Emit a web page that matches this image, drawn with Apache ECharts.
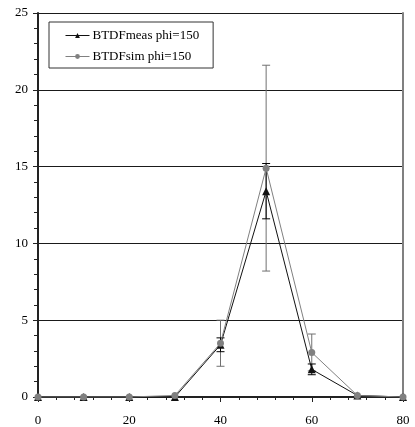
<!DOCTYPE html>
<html><head><meta charset="utf-8">
<script src="https://cdn.jsdelivr.net/npm/echarts@6/dist/echarts.min.js"></script>
<style>html,body{margin:0;padding:0;background:#fff}#c{width:415px;height:427px}</style>
</head><body><div id="c"></div>
<script>
const angles = [0, 10, 20, 30, 40, 50, 60, 70, 80];
const measValues = [0, 0, 0, 0, 3.4, 13.4, 1.8, 0.1, 0];
const measErrors = [0, 0, 0, 0, 0.45, 1.8, 0.35, 0, 0];
const simValues = [0, 0, 0, 0.1, 3.5, 14.9, 2.9, 0.1, 0];
const simErrors = [0, 0, 0, 0, 1.5, 6.7, 1.2, 0, 0];
const xTicks = [0, 20, 40, 60, 80];
const yTicks = [0, 5, 10, 15, 20, 25];

const font = '"Liberation Serif", "DejaVu Serif", serif';
const chart = echarts.init(document.getElementById('c'));

function errSeries(vals, errs, color, z) {
  return {
    type: 'custom', z: z, silent: true,
    data: angles.map((a, i) => [a, vals[i] - errs[i], vals[i] + errs[i]]).filter((d, i) => errs[i] > 0),
    renderItem: function (params, api) {
      const lo = api.coord([api.value(0), api.value(1)]);
      const hi = api.coord([api.value(0), api.value(2)]);
      const w = 4;
      const st = { stroke: color, lineWidth: 1 };
      return { type: 'group', children: [
        { type: 'line', shape: { x1: lo[0], y1: lo[1], x2: hi[0], y2: hi[1] }, style: st },
        { type: 'line', shape: { x1: lo[0] - w, y1: lo[1], x2: lo[0] + w, y2: lo[1] }, style: st },
        { type: 'line', shape: { x1: hi[0] - w, y1: hi[1], x2: hi[0] + w, y2: hi[1] }, style: st }
      ]};
    }
  };
}

chart.setOption({
  animation: false,
  grid: { left: 38, right: 12, top: 13, bottom: 30 },
  legend: {
    orient: 'vertical', left: 49, top: 22,
    padding: [6, 14, 4, 16], itemGap: 6, itemWidth: 24, itemHeight: 6,
    borderColor: '#333', borderWidth: 1, backgroundColor: '#fff',
    lineStyle: { width: 1 },
    textStyle: { fontFamily: font, fontSize: 13, color: '#000', lineHeight: 15, padding: [0, 0, 0, -2] },
    data: ['BTDFmeas phi=150', 'BTDFsim phi=150']
  },
  xAxis: {
    type: 'value', min: 0, max: 80, interval: 20,
    axisLine: { show: true, onZero: false, lineStyle: { color: '#222', width: 2 } },
    axisTick: { show: true, length: 5, lineStyle: { color: '#222' } },
    minorTick: { show: true, splitNumber: 5, length: 3, lineStyle: { color: '#222' } },
    splitLine: { show: false },
    axisLabel: { fontFamily: font, fontSize: 13, color: '#000', margin: 17,
      formatter: v => xTicks.includes(v) ? String(v) : '' }
  },
  yAxis: [{
    type: 'value', min: 0, max: 25, interval: 5,
    axisLine: { show: true, lineStyle: { color: '#222', width: 2 } },
    axisTick: { show: true, length: 5, lineStyle: { color: '#222' } },
    minorTick: { show: true, splitNumber: 5, length: 4, lineStyle: { color: '#222' } },
    splitLine: { show: true, lineStyle: { color: '#1a1a1a', width: 1 } },
    axisLabel: { fontFamily: font, fontSize: 13, color: '#000', margin: 10,
      formatter: v => yTicks.includes(v) ? String(v) : '' }
  }, {
    type: 'value', min: 0, max: 25, position: 'right',
    axisLine: { show: true, lineStyle: { color: '#808080', width: 2 } },
    axisTick: { show: false }, axisLabel: { show: false }, splitLine: { show: false }
  }],
  series: [
    errSeries(simValues, simErrors, '#707070', 2),
    errSeries(measValues, measErrors, '#000', 3),
    {
      name: 'BTDFmeas phi=150', type: 'line', z: 4,
      data: angles.map((a, i) => [a, measValues[i]]),
      symbol: 'triangle', symbolSize: 8,
      lineStyle: { color: '#111', width: 1 },
      itemStyle: { color: '#111' }
    },
    {
      name: 'BTDFsim phi=150', type: 'line', z: 5,
      data: angles.map((a, i) => [a, simValues[i]]),
      symbol: 'circle', symbolSize: 7,
      lineStyle: { color: '#808080', width: 1 },
      itemStyle: { color: '#808080' }
    }
  ]
});
</script></body></html>
